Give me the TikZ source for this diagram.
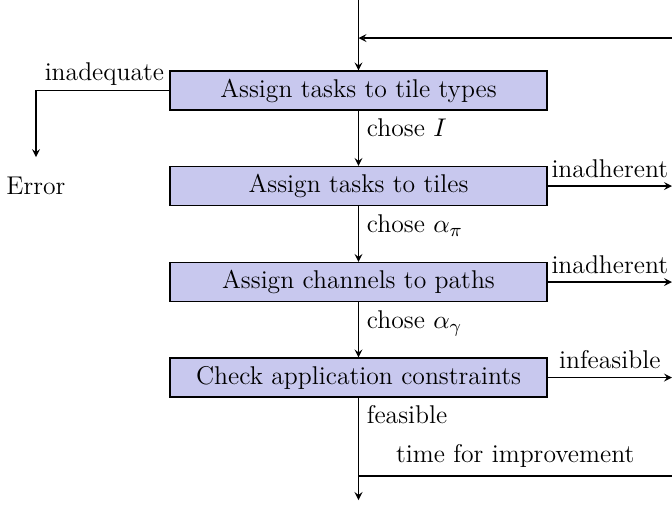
\documentclass[tikz,border=0pt]{standalone}
\usepackage{amsmath}
\usetikzlibrary{arrows}
\definecolor{boxfill}{RGB}{200,200,238}

\begin{document}
\begin{tikzpicture}[x=0.4286pt, y=-0.4286pt, >=stealth, line width=0.5pt,
  every node/.style={font=\fontsize{11}{13}\selectfont},
  task/.style={rectangle, draw, fill=boxfill, minimum width=161.6pt, minimum height=16.7pt, inner sep=0pt}]
\useasboundingbox (0,0) rectangle (672,508);

\node[task] at (358.5,90.5) (types) {Assign tasks to tile types};
\node[task] at (358.5,186) (tiles) {Assign tasks to tiles};
\node[task] at (358.5,282) (paths) {Assign channels to paths};
\node[task] at (358.5,377.5) (check) {Check application constraints};
\node at (36,186) (err) {Error};

\coordinate (top) at (358.5,0);
\coordinate (join) at (358.5,38);
\coordinate (back) at (672,38);
\coordinate (outone) at (672,186);
\coordinate (outtwo) at (672,282);
\coordinate (outthree) at (672,377.5);
\coordinate (fork) at (358.5,476);
\coordinate (again) at (672,476);
\coordinate (done) at (358.5,500);

\draw[->] (top) -> (types);
\draw[->] (back) -> (join);
\draw[->] (types) -> (tiles) node[below right, pos=0] {chose $I$};
\draw[->] (tiles) -> (paths) node[below right, pos=0] {chose $\alpha_\pi$};
\draw[->] (paths) -> (check) node[below right, pos=0] {chose $\alpha_\gamma$};
\draw[->] (check) -> (done) node[below right, pos=0] {feasible};
\draw (fork) -- (again) node[above, midway] {time for improvement};

\draw[->, shorten >=5pt] (types.west) -| (err.north) node[above left, pos=0, inner sep=2pt] {inadequate};
\draw[->] (tiles.east) -> (outone) node[above, midway] {inadherent};
\draw[->] (paths.east) -> (outtwo) node[above, midway] {inadherent};
\draw[->] (check.east) -> (outthree) node[above, midway] {infeasible};

\end{tikzpicture}
\end{document}
